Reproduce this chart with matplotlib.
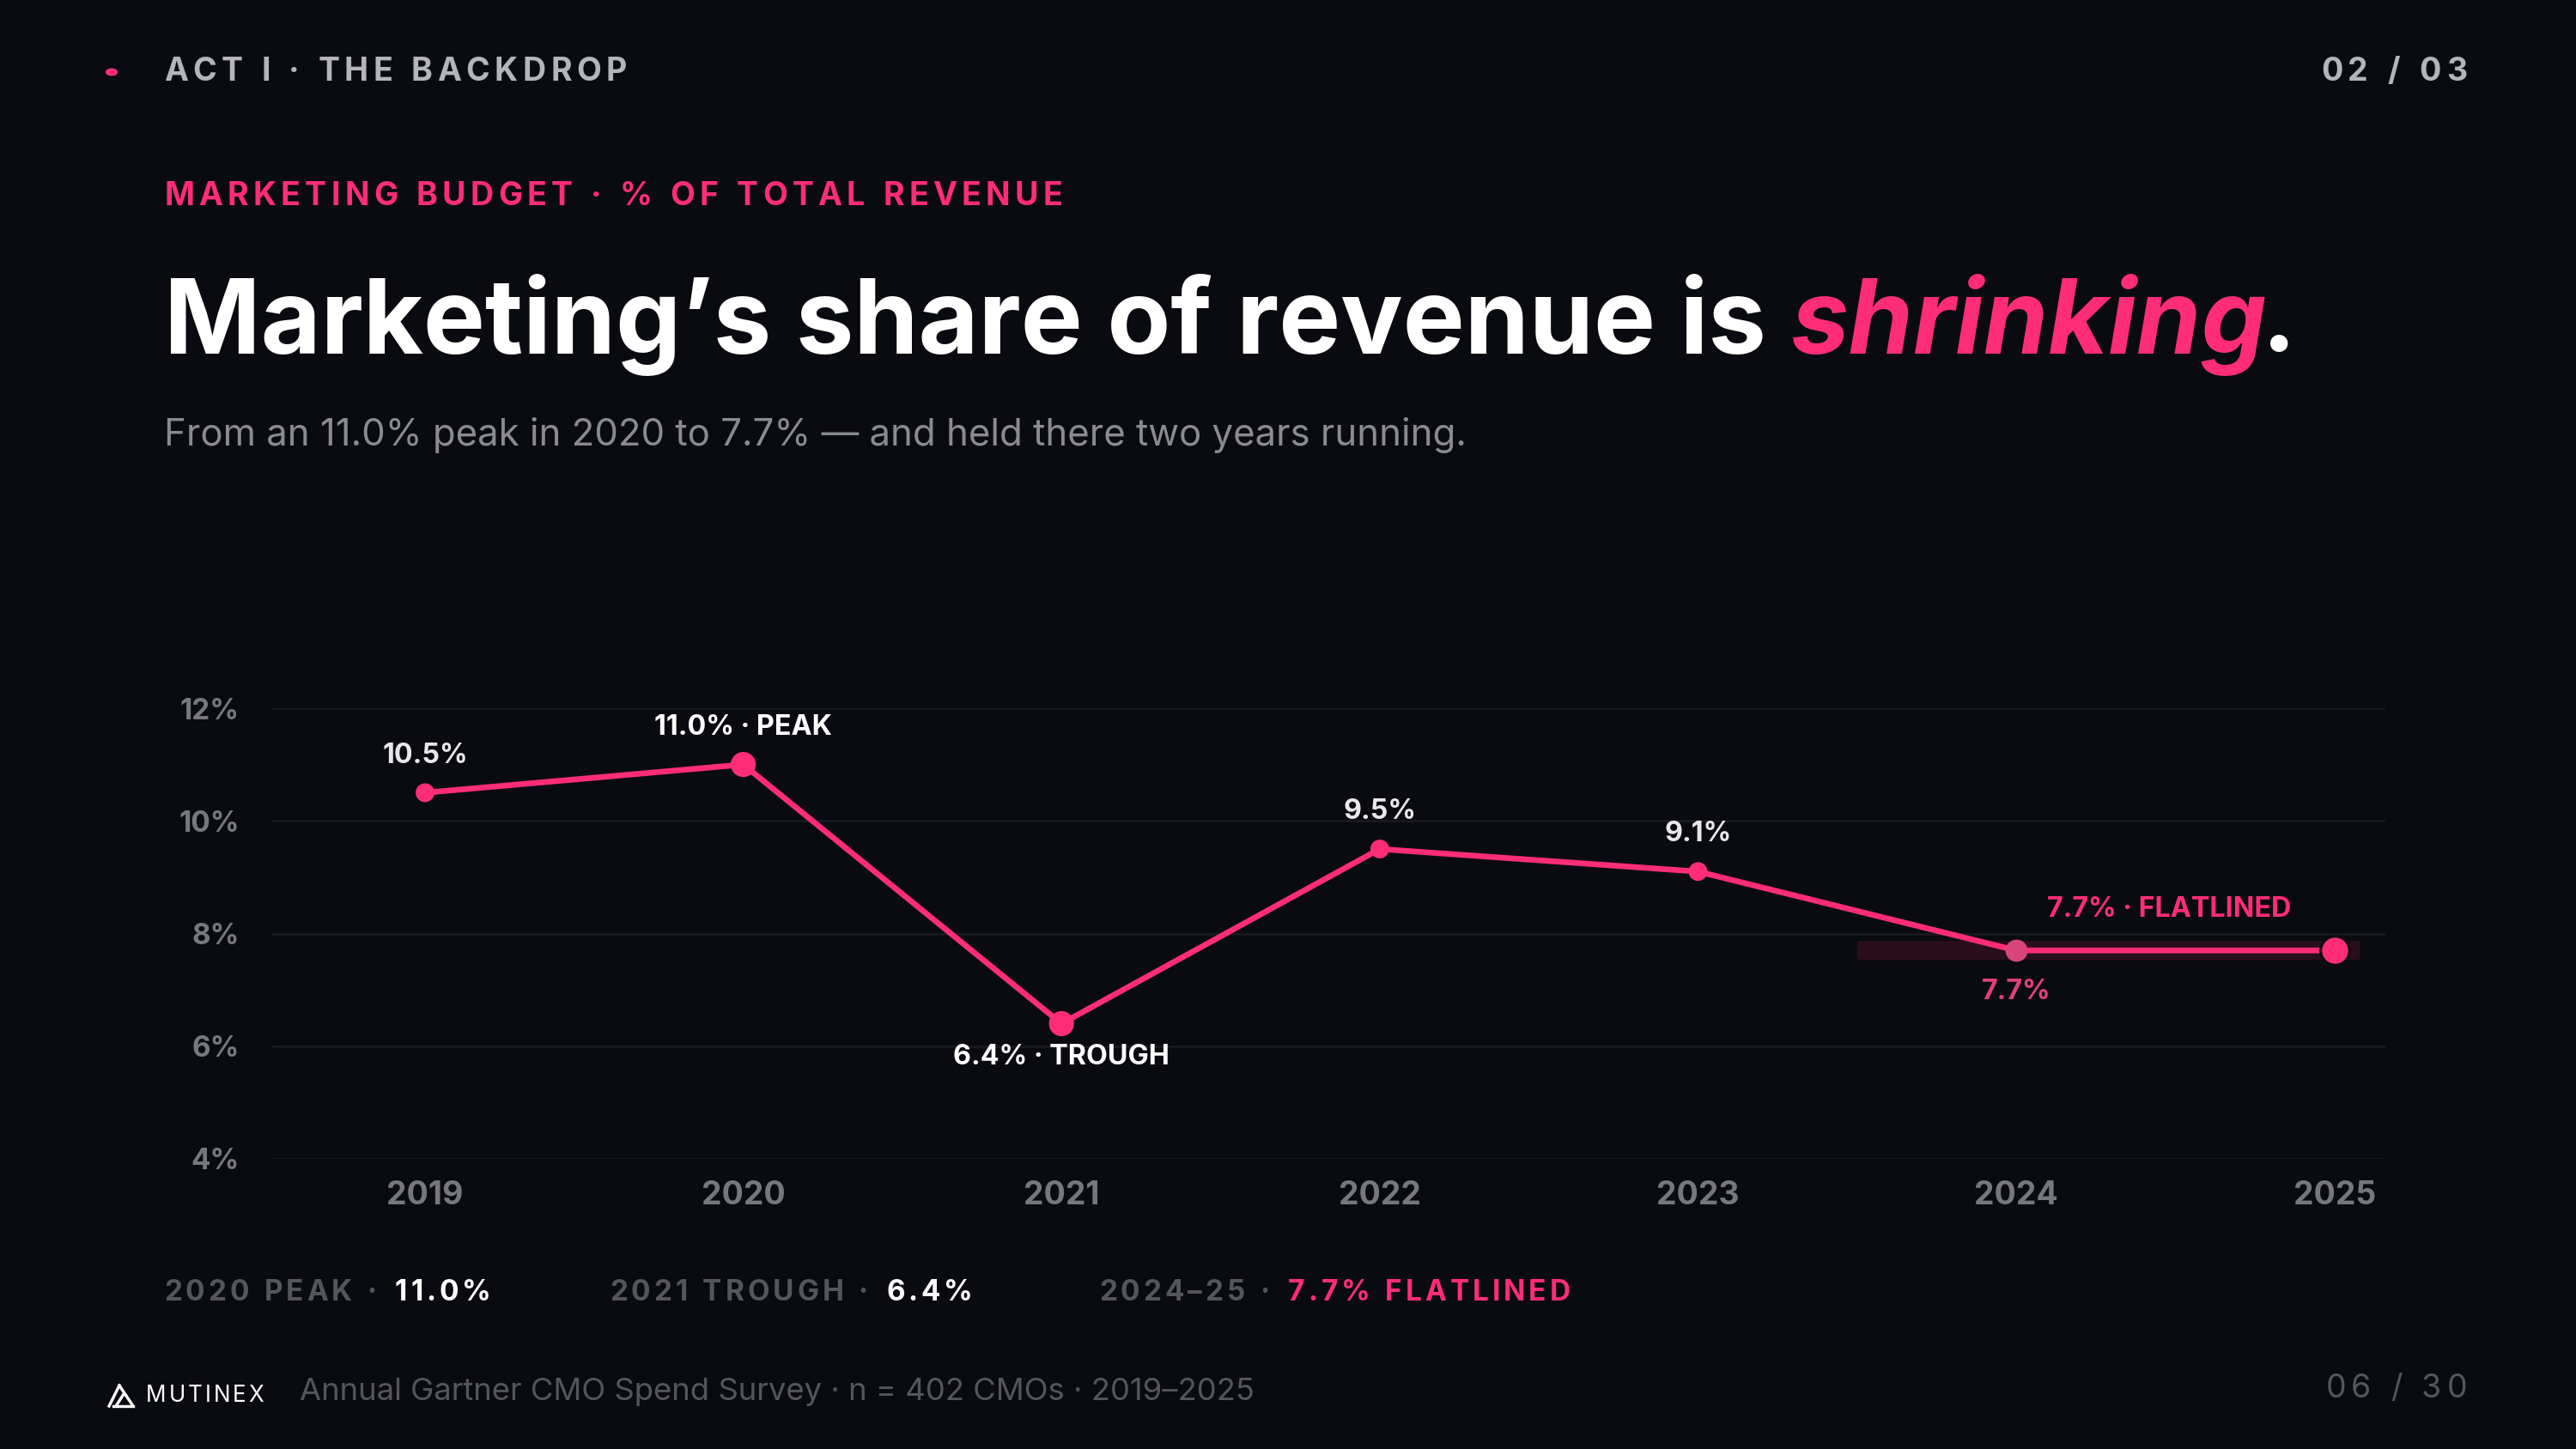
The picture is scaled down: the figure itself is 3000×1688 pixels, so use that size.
import matplotlib
matplotlib.use("Agg")
import matplotlib.pyplot as plt
from matplotlib.patches import FancyBboxPatch
from matplotlib.lines import Line2D

years = ["2019", "2020", "2021", "2022", "2023", "2024", "2025"]
share = [10.5, 11.0, 6.4, 9.5, 9.1, 7.7, 7.7]
yticks = [4, 6, 8, 10, 12]
ytick_labels = ["4%", "6%", "8%", "10%", "12%"]

W, H = 3000, 1688
BG = "#0a0b10"
PINK = "#ff2d78"
FONT = "Inter"

fig = plt.figure(figsize=(W / 150, H / 150), dpi=150, facecolor=BG)
renderer = fig.canvas.get_renderer()


def fx(x):
    return x / W


def fy(y):
    return 1 - y / H


def spaced(x, y, s, size, color, weight="bold", spacing=0.0, ha="left"):
    parts = []
    total = 0
    for ch in s:
        t = fig.text(0, 0, ch, fontsize=size, color=color, weight=weight, family=FONT,
                     va="center", ha="left")
        w = t.get_window_extent(renderer).width
        if ch == " ":
            w = size * 150 / 72 * 0.28
        parts.append((t, w))
        total += w + spacing
    total -= spacing
    cx = x - total if ha == "right" else x
    for t, w in parts:
        t.set_position((fx(cx), fy(y)))
        cx += w + spacing
    return cx


def spaced_multi(x, y, segs, size, spacing):
    for s, c in segs:
        x = spaced(x, y, s, size, c, spacing=spacing) + spacing


# Header
fig.patches.append(plt.Circle((fx(130), fy(84)), 6 / W, transform=fig.transFigure,
                              color=PINK, zorder=5))
spaced(191, 84, "ACT I · THE BACKDROP", 18, "#b4b4bc", spacing=5.5)
spaced(2873, 84, "02 / 03", 18, "#b4b4bc", spacing=6, ha="right")
spaced(191, 229, "MARKETING BUDGET · % OF TOTAL REVENUE", 18, PINK, spacing=5.3)

# Title
TS = 58
t1 = fig.text(fx(191), fy(378), "Marketing’s share of revenue is ", fontsize=TS,
              weight="bold", color="white", family=FONT, va="center")
w1 = t1.get_window_extent(renderer).width
t2 = fig.text(fx(191 + w1), fy(378), "shrinking", fontsize=TS, weight="bold",
              style="italic", color=PINK, family=FONT, va="center")
w2 = t2.get_window_extent(renderer).width
fig.text(fx(191 + w1 + w2 - 6), fy(378), ".", fontsize=TS, weight="bold",
         color="white", family=FONT, va="center")
fig.text(fx(191), fy(507), "From an 11.0% peak in 2020 to 7.7% — and held there two years running.",
         fontsize=21, color="#8a8a92", family=FONT, va="center")

# Axes
x0, x1 = 316, 2778
y_top, y_bot = 825, 1350
ax = fig.add_axes([fx(x0), fy(y_bot), (x1 - x0) / W, (y_bot - y_top) / H])
ax.set_facecolor(BG)
xs = list(range(len(years)))
ax.set_xlim(-0.483, 6.16)
ax.set_ylim(4, 12)
for v in yticks:
    ax.axhline(v, color="#1a1b22", lw=1.2, zorder=0)
for s in ax.spines.values():
    s.set_visible(False)
ax.set_yticks(yticks)
ax.set_yticklabels(ytick_labels)
ax.set_xticks(xs)
ax.set_xticklabels(years)
ax.tick_params(length=0, colors="#77777f")
ax.tick_params(axis="y", pad=18, labelsize=16)
ax.tick_params(axis="x", pad=12, labelsize=18)
for lab in ax.get_xticklabels() + ax.get_yticklabels():
    lab.set_fontweight("bold")
    lab.set_family(FONT)

# highlight band
ax.add_patch(FancyBboxPatch((4.5, share[5] - 0.17), 1.58, 0.34,
                            boxstyle="round,pad=0,rounding_size=0.05",
                            fc="#2a0e1c", ec="none", zorder=1, mutation_aspect=0.3))
ax.plot(xs, share, color=PINK, lw=3.2, zorder=3, solid_capstyle="round")
ax.scatter(xs[:5], share[:5], s=[90, 170, 170, 90, 90], color=PINK, zorder=4)
ax.scatter([xs[5]], [share[5]], s=130, color="#d8457a", zorder=4)
ax.scatter([xs[6]], [share[6]], s=260, color=PINK, zorder=4, edgecolor=BG, linewidth=1.5)

lab_kw = dict(fontsize=15.5, weight="bold", family=FONT, ha="center", va="center")
above = 0.66
ax.text(xs[0], share[0] + above, "10.5%", color="#e8e8ec", **lab_kw)
ax.text(xs[1], share[1] + above, "11.0% · PEAK", color="white", **lab_kw)
ax.text(xs[2], share[2] - 0.6, "6.4% · TROUGH", color="white", **lab_kw)
ax.text(xs[3], share[3] + above, "9.5%", color="#e8e8ec", **lab_kw)
ax.text(xs[4], share[4] + above, "9.1%", color="#e8e8ec", **lab_kw)
ax.text(xs[5], share[5] - 0.74, "7.7%", color="#e0407a", **lab_kw)
ax.text(5.48, share[5] + 0.72, "7.7% · FLATLINED", color=PINK, **lab_kw)

# Footer stats
spaced_multi(191, 1506, [("2020 PEAK · ", "#55555e"), ("11.0%", "white")], 16, 4)
spaced_multi(710, 1506, [("2021 TROUGH · ", "#55555e"), ("6.4%", "white")], 16, 4)
spaced_multi(1280, 1506, [("2024–25 · ", "#55555e"), ("7.7% FLATLINED", PINK)], 16, 4)

# logo mark (drawn shape)
lx, ly = 127, 1638
for (xa, ya, xb, yb) in [(0, 0, 12, -24), (12, -24, 28, 0), (8, 0, 17, -14), (5, 0, 28, 0)]:
    fig.add_artist(Line2D([fx(lx + xa), fx(lx + xb)], [fy(ly + ya), fy(ly + yb)],
                          color="white", lw=1.6, transform=fig.transFigure))
spaced(170, 1626, "MUTINEX", 12.5, "white", weight="normal", spacing=3)
fig.text(fx(349), fy(1622), "Annual Gartner CMO Spend Survey · n = 402 CMOs · 2019–2025",
         fontsize=17.5, color="#55555e", family=FONT, va="center")
spaced(2873, 1618, "06 / 30", 18, "#55555e", weight="normal", spacing=6, ha="right")

fig.savefig("out.png", dpi=150, facecolor=BG)
